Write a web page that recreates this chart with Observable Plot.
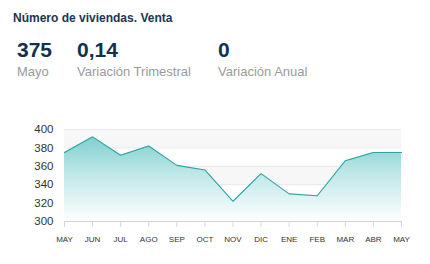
<!DOCTYPE html>
<html><head><meta charset="utf-8">
<script src="https://cdn.jsdelivr.net/npm/d3@7"></script>
<script src="https://cdn.jsdelivr.net/npm/@observablehq/plot@0.6"></script>
<style>
body{margin:0;background:#fff;font-family:"Liberation Sans",Arial,sans-serif;}
#wrap{position:relative;width:430px;height:264px;overflow:hidden;}
.t{position:absolute;white-space:nowrap;}
#title{left:13px;top:11px;font-size:12px;font-weight:bold;color:#1c3553;}
.big{font-size:21px;font-weight:bold;color:#13314f;top:38px;}
.sub{font-size:13px;color:#9a9a9a;top:64px;}
#chart{position:absolute;left:0;top:110px;}
</style></head><body>
<div id="wrap">
<div class="t" id="title">Número de viviendas. Venta</div>
<div class="t big" style="left:17px">375</div>
<div class="t sub" style="left:17px">Mayo</div>
<div class="t big" style="left:77px">0,14</div>
<div class="t sub" style="left:77px">Variación Trimestral</div>
<div class="t big" style="left:218px">0</div>
<div class="t sub" style="left:218px">Variación Anual</div>
<div id="chart"></div>
</div>
<script>
const months = ["MAY","JUN","JUL","AGO","SEP","OCT","NOV","DIC","ENE","FEB","MAR","ABR","MAY"];
const values = [375,392,372,382,361,356,322,352,330,328,366,375,375];
const yTicks = [300,320,340,360,380,400];
const bandLow = [380,340,300];
const bandHigh = [400,360,320];

const data = values.map((v,i)=>({i, v}));
const bands = bandLow.map((lo,k)=>({lo, hi: bandHigh[k]}));
const n = months.length - 1;

const plot = Plot.plot({
  width: 430, height: 150,
  marginLeft: 64, marginRight: 29, marginTop: 19, marginBottom: 39,
  style: {fontFamily: "Liberation Sans, Arial, sans-serif", background: "transparent"},
  x: {type: "linear", domain: [0, n], axis: null, label: null},
  y: {domain: [300, 400], axis: null, label: null},
  marks: [
    Plot.rectY(bands, {x1: () => 0, x2: () => n, y1: "lo", y2: "hi", fill: "#f7f7f7"}),
    Plot.ruleY(yTicks, {stroke: "#e8e8e8", strokeWidth: 1}),
    Plot.areaY(data, {x: "i", y1: 300, y2: "v", fill: "url(#tealgrad)"}),
    Plot.lineY(data, {x: "i", y: "v", stroke: "#2ea3a3", strokeWidth: 1.1}),
    Plot.ruleY([300], {stroke: "#d6d6d6", strokeWidth: 1.2}),
    Plot.axisX({ticks: d3.range(months.length), tickFormat: i => months[i], label: null, tickSize: 6, tickPadding: 9, stroke: "#d6d6d6", fill: "#333", fontSize: 8, style: {letterSpacing: "-0.6px"}}),
    Plot.axisY({ticks: yTicks, label: null, tickSize: 0, tickPadding: 11, fill: "#333", fontSize: 11.5})
  ]
});
const ns = "http://www.w3.org/2000/svg";
const defs = document.createElementNS(ns, "defs");
defs.innerHTML = '<linearGradient id="tealgrad" x1="0" y1="0" x2="0" y2="1"><stop offset="0" stop-color="#7fcfcf"/><stop offset="0.45" stop-color="#c0e8e8"/><stop offset="1" stop-color="#ffffff"/></linearGradient>';
plot.insertBefore(defs, plot.firstChild);
document.getElementById("chart").appendChild(plot);
</script>
</body></html>
